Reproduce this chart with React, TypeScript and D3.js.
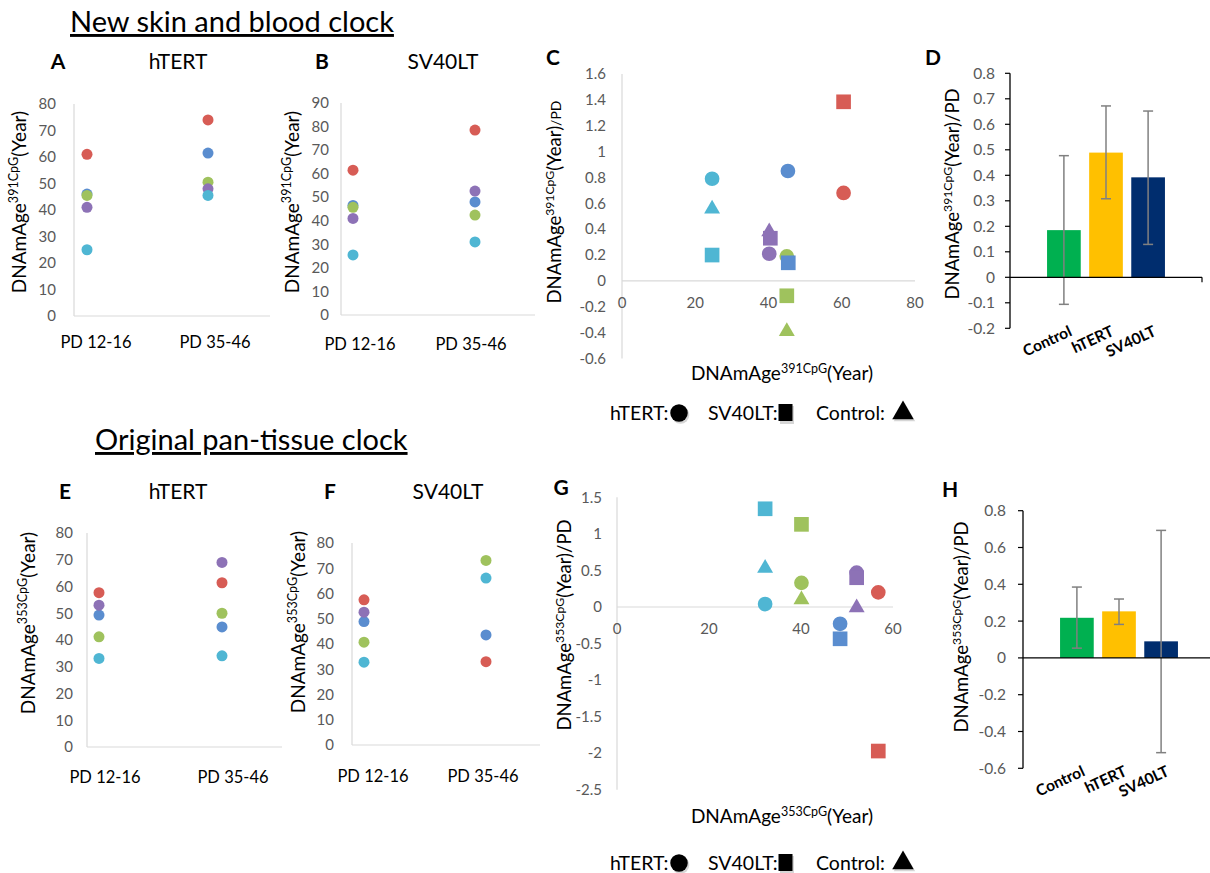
import React from 'react'
import * as d3 from 'd3'

const FONT = 'Lato, "Open Sans", sans-serif'

// red, blue, green, purple, cyan
const sampleColors = ['#d75c55', '#5a8dcf', '#9fc25d', '#8d72b6', '#4fb6d3']
const pdLabels = ['PD 12-16', 'PD 35-46']

// A: hTERT, skin and blood clock
const aEarly = [61, 46, 45.5, 41, 25]
const aLate = [74, 61.5, 50.5, 48, 45.5]
// B: SV40LT, skin and blood clock
const bEarly = [61.5, 46.5, 45.7, 41, 25.5]
const bLate = [78.5, 48, 42.4, 52.6, 31]
// E: hTERT, pan-tissue clock
const eEarly = [57.7, 49.3, 41.2, 53, 33.1]
const eLate = [61.4, 44.9, 50, 69, 34.1]
// F: SV40LT, pan-tissue clock
const fEarly = [57.5, 48.9, 40.7, 52.6, 32.8]
const fLate = [33, 43.6, 73.1, null, 66.1]

const ticks80 = [0, 10, 20, 30, 40, 50, 60, 70, 80]
const ticks90 = [0, 10, 20, 30, 40, 50, 60, 70, 80, 90]

// C: x = DNAm age at PD 12-16, y = age / PD
const cHtertX = [60.5, 45.3, 45, 40.2, 24.6]
const cHtertY = [0.68, 0.85, 0.19, 0.21, 0.79]
const cSvX = [60.5, 45.4, 45, 40.5, 24.6]
const cSvY = [1.385, 0.14, -0.115, 0.33, 0.2]
const cCtrlX = [null, null, 45, 40.2, 24.6]
const cCtrlY = [null, null, -0.39, 0.38, 0.556]
const cYTicks = [-0.6, -0.4, -0.2, 0, 0.2, 0.4, 0.6, 0.8, 1, 1.2, 1.4, 1.6]
const cXTicks = [0, 20, 40, 60, 80]

// G
const gHtertX = [56.8, 48.5, 40.1, 52.1, 32.2]
const gHtertY = [0.2, -0.23, 0.33, 0.47, 0.04]
const gSvX = [56.8, 48.5, 40.1, 52.1, 32.2]
const gSvY = [-1.97, -0.435, 1.13, 0.4, 1.343]
const gCtrlX = [null, null, 40.1, 52.1, 32.2]
const gCtrlY = [null, null, 0.1, -0.01, 0.53]
const gYTicks = [-2.5, -2, -1.5, -1, -0.5, 0, 0.5, 1, 1.5]
const gXTicks = [0, 20, 40, 60]

// D and H bars
const barGroups = ['Control', 'hTERT', 'SV40LT']
const barColors = ['#00b050', '#ffc000', '#002d6e']
const dMean = [0.185, 0.489, 0.392]
const dLow = [-0.106, 0.308, 0.129]
const dHigh = [0.477, 0.672, 0.652]
const dTicks = [-0.2, -0.1, 0, 0.1, 0.2, 0.3, 0.4, 0.5, 0.6, 0.7, 0.8]
const hMean = [0.218, 0.253, 0.09]
const hLow = [0.053, 0.182, -0.515]
const hHigh = [0.385, 0.32, 0.693]
const hTicks = [-0.6, -0.4, -0.2, 0, 0.2, 0.4, 0.6, 0.8]

const fmt = (v: number) => String(+v.toFixed(2))
const GRAY = '#595959'

function YTitle({ x, y, cpg, size = 19, suffix = '', suffixSize = 0 }: any) {
  return (
    <text transform={`translate(${x},${y}) rotate(-90)`} textAnchor="middle" dy="0.35em" fontSize={size}>
      DNAmAge
      <tspan dy={-size * 0.4} fontSize={size * 0.66}>{cpg}CpG</tspan>
      <tspan dy={size * 0.4}>(Year)</tspan>
      {suffix ? <tspan fontSize={suffixSize || size}>{suffix}</tspan> : null}
    </text>
  )
}

function DotPanel({ L, early, late, ticks, yMax, cpg, letter, title }: any) {
  const y = d3.scaleLinear().domain([0, yMax]).range([L.bottom, L.top])
  const x = d3.scalePoint().domain(pdLabels).range([L.p0, L.p1])
  const xl = d3.scalePoint().domain(pdLabels).range([L.l0, L.l1])
  const series = [early, late]
  return (
    <g>
      <text x={L.letterX} y={L.headY} fontWeight="bold" fontSize={21} textAnchor="middle">{letter}</text>
      <text x={L.titleX} y={L.headY} fontSize={21} textAnchor="middle">{title}</text>
      <line x1={L.axisX} x2={L.axisX} y1={L.top} y2={L.bottom} stroke="#d9d9d9" strokeWidth={1.2} />
      <line x1={L.axisX} x2={L.right} y1={L.bottom} y2={L.bottom} stroke="#d9d9d9" strokeWidth={1.2} />
      {ticks.map((t: number) => (
        <text key={t} x={L.tickRight} y={y(t)} dy="0.35em" textAnchor="end" fontSize={15} fill={GRAY}>{t}</text>
      ))}
      {pdLabels.map((c) => (
        <text key={c} x={xl(c)} y={L.labelY} textAnchor="middle" fontSize={16.5}>{c}</text>
      ))}
      {series.map((vals: any[], j: number) =>
        vals.map((v, i) =>
          v == null ? null : (
            <circle key={`${j}-${i}`} cx={x(pdLabels[j])} cy={y(v)} r={5.5} fill={sampleColors[i]} />
          )
        )
      )}
      <YTitle x={L.yTitleX} y={L.yTitleY} cpg={cpg} size={19} />
    </g>
  )
}

const circlePath = d3.symbol(d3.symbolCircle, 170)()
const squarePath = d3.symbol(d3.symbolSquare, 215)()
const trianglePath = d3.symbol(d3.symbolTriangle, 110)()

function Legend({ y }: any) {
  const items = [
    { label: 'hTERT:', x: 610, path: d3.symbol(d3.symbolCircle, 240)(), gx: 679 },
    { label: 'SV40LT:', x: 708, path: null, gx: 786 },
    { label: 'Control:', x: 816, path: d3.symbol(d3.symbolTriangle, 200)(), gx: 903 },
  ]
  return (
    <g fontSize={19.5}>
      {items.map((it) => (
        <g key={it.label}>
          <text x={it.x} y={y}>{it.label}</text>
          {it.path ? (
            <>
              <path d={it.path} transform={`translate(${it.gx + 1.5},${y - 5})`} fill="#bbb" opacity={0.6} />
              <path d={it.path} transform={`translate(${it.gx},${y - 7})`} fill="#000" />
            </>
          ) : (
            <>
              <rect x={it.gx - 6} y={y - 14} width={14} height={18} fill="#bbb" opacity={0.6} />
              <rect x={it.gx - 7.5} y={y - 16} width={14} height={17} fill="#000" />
            </>
          )}
        </g>
      ))}
    </g>
  )
}

function ScatterPanel({ S, letter, cpg, xTicks, yTicks, xDom, yDom, hx, hy, sx, sy, tx, ty, pdSize }: any) {
  const x = d3.scaleLinear().domain(xDom).range(S.xRange)
  const y = d3.scaleLinear().domain(yDom).range(S.yRange)
  const pts = (xs: any[], ys: any[], path: string) =>
    xs.map((xv, i) =>
      xv == null ? null : (
        <path key={path.length + '-' + i} d={path} transform={`translate(${x(xv)},${y(ys[i])})`} fill={sampleColors[i]} />
      )
    )
  return (
    <g>
      <text x={S.letterX} y={S.letterY} fontWeight="bold" fontSize={21} textAnchor="middle">{letter}</text>
      <line x1={x(0)} x2={x(0)} y1={S.yRange[0]} y2={S.yRange[1]} stroke="#d9d9d9" strokeWidth={1.2} />
      <line x1={S.xRange[0]} x2={S.xRange[1]} y1={y(0)} y2={y(0)} stroke="#d9d9d9" strokeWidth={1.2} />
      {yTicks.map((t: number) => (
        <text key={t} x={S.tickRight} y={y(t)} dy="0.35em" textAnchor="end" fontSize={15} fill={GRAY}>{fmt(t)}</text>
      ))}
      {xTicks.map((t: number) => (
        <text key={t} x={x(t)} y={S.xLabelY} textAnchor="middle" fontSize={15} fill={GRAY}>{t}</text>
      ))}
      {pts(hx, hy, circlePath)}
      {pts(tx, ty, trianglePath)}
      {pts(sx, sy, squarePath)}
      <YTitle x={S.yTitleX} y={S.yTitleY} cpg={cpg} size={18.5} suffix="/PD" suffixSize={pdSize} />
      <text x={S.xTitleX} y={S.xTitleY} textAnchor="middle" fontSize={19}>
        DNAmAge
        <tspan dy={-7.5} fontSize={12.5}>{cpg}CpG</tspan>
        <tspan dy={7.5}>(Year)</tspan>
      </text>
      <Legend y={S.legendY} />
    </g>
  )
}

function BarPanel({ B, letter, cpg, mean, low, high, ticks, yDom }: any) {
  const y = d3.scaleLinear().domain(yDom).range(B.yRange)
  const x = d3.scaleBand().domain(barGroups).range(B.xRange).paddingInner(0.2).paddingOuter(0.88)
  const bw = x.bandwidth()
  return (
    <g>
      <text x={B.letterX} y={B.letterY} fontWeight="bold" fontSize={21} textAnchor="middle">{letter}</text>
      {barGroups.map((g, i) => (
        <rect key={g} x={x(g)} width={bw} y={Math.min(y(mean[i]), y(0))} height={Math.abs(y(0) - y(mean[i]))} fill={barColors[i]} />
      ))}
      {barGroups.map((g, i) => {
        const cx = x(g)! + bw / 2
        return (
          <g key={g} stroke="#808080" strokeWidth={1.5}>
            <line x1={cx} x2={cx} y1={y(low[i])} y2={y(high[i])} />
            <line x1={cx - 5} x2={cx + 5} y1={y(low[i])} y2={y(low[i])} />
            <line x1={cx - 5} x2={cx + 5} y1={y(high[i])} y2={y(high[i])} />
          </g>
        )
      })}
      <line x1={B.axisX} x2={B.axisX} y1={B.yRange[0]} y2={B.yRange[1]} stroke="#000" strokeWidth={1.3} />
      {ticks.map((t: number) => (
        <g key={t}>
          <line x1={B.axisX - 5} x2={B.axisX} y1={y(t)} y2={y(t)} stroke="#000" strokeWidth={1.2} />
          <text x={B.tickRight} y={y(t)} dy="0.35em" textAnchor="end" fontSize={15.5} fill={GRAY}>{fmt(t)}</text>
        </g>
      ))}
      <line x1={B.axisX} x2={B.xRange[1]} y1={y(0)} y2={y(0)} stroke="#000" strokeWidth={1.3} />
      <line x1={B.xRange[1]} x2={B.xRange[1]} y1={y(0)} y2={y(0) + 5} stroke="#000" strokeWidth={1.2} />
      {barGroups.map((g) => (
        <text
          key={g}
          transform={`translate(${x(g)! + bw / 2 + 9},${B.labelY}) rotate(-25)`}
          textAnchor="end"
          fontWeight="bold"
          fontSize={15.5}
        >
          {g}
        </text>
      ))}
      <YTitle x={B.yTitleX} y={B.yTitleY} cpg={cpg} size={18.5} suffix="/PD" />
    </g>
  )
}

const layoutA = { letterX: 58, titleX: 178, headY: 69, axisX: 74, right: 270, top: 104, bottom: 316, p0: 87, p1: 208, l0: 96, l1: 215, labelY: 348, tickRight: 56, yTitleX: 19, yTitleY: 202 }
const layoutB = { letterX: 322, titleX: 443, headY: 69, axisX: 341, right: 535, top: 103, bottom: 315, p0: 353, p1: 475, l0: 360, l1: 471, labelY: 350, tickRight: 329, yTitleX: 292, yTitleY: 202 }
const layoutE = { letterX: 65, titleX: 178, headY: 499, axisX: 87, right: 282, top: 533, bottom: 747, p0: 99, p1: 222, l0: 105, l1: 233, labelY: 783, tickRight: 73, yTitleX: 28, yTitleY: 623 }
const layoutF = { letterX: 330, titleX: 448, headY: 499, axisX: 352, right: 540, top: 543, bottom: 745, p0: 364, p1: 486, l0: 373, l1: 483, labelY: 782, tickRight: 334, yTitleX: 298, yTitleY: 622 }

const layoutC = { letterX: 553, letterY: 65, xRange: [622, 915], yRange: [358.5, 74], tickRight: 606, xLabelY: 308, yTitleX: 555, yTitleY: 202, xTitleX: 782, xTitleY: 380, legendY: 420 }
const layoutG = { letterX: 561, letterY: 495, xRange: [617, 893], yRange: [789.8, 497.3], tickRight: 602, xLabelY: 634, yTitleX: 565, yTitleY: 625, xTitleX: 782, xTitleY: 823, legendY: 870 }

const layoutD = { letterX: 933, letterY: 65, axisX: 1010, xRange: [1010, 1202], yRange: [328.3, 73.3], tickRight: 995, yTitleX: 953, yTitleY: 194, labelY: 335 }
const layoutH = { letterX: 950, letterY: 497, axisX: 1023, xRange: [1023, 1215], yRange: [768.3, 510.7], tickRight: 1006, yTitleX: 962, yTitleY: 627, labelY: 775 }

export default function App() {
  return (
    <div style={{ position: 'absolute', left: 0, top: 0 }}>
      <svg width={1210} height={873} style={{ display: 'block', background: '#fff' }} fontFamily={FONT}>
        <text x={70} y={32} fontSize={29} textDecoration="underline">New skin and blood clock</text>
        <text x={95} y={450} fontSize={29} textDecoration="underline">Original pan-tissue clock</text>

        <DotPanel L={layoutA} early={aEarly} late={aLate} ticks={ticks80} yMax={80} cpg="391" letter="A" title="hTERT" />
        <DotPanel L={layoutB} early={bEarly} late={bLate} ticks={ticks90} yMax={90} cpg="391" letter="B" title="SV40LT" />
        <ScatterPanel S={layoutC} letter="C" cpg="391" xTicks={cXTicks} yTicks={cYTicks} xDom={[0, 80]} yDom={[-0.6, 1.6]}
          hx={cHtertX} hy={cHtertY} sx={cSvX} sy={cSvY} tx={cCtrlX} ty={cCtrlY} pdSize={14} />
        <BarPanel B={layoutD} letter="D" cpg="391" mean={dMean} low={dLow} high={dHigh} ticks={dTicks} yDom={[-0.2, 0.8]} />

        <DotPanel L={layoutE} early={eEarly} late={eLate} ticks={ticks80} yMax={80} cpg="353" letter="E" title="hTERT" />
        <DotPanel L={layoutF} early={fEarly} late={fLate} ticks={ticks80} yMax={80} cpg="353" letter="F" title="SV40LT" />
        <ScatterPanel S={layoutG} letter="G" cpg="353" xTicks={gXTicks} yTicks={gYTicks} xDom={[0, 60]} yDom={[-2.5, 1.5]}
          hx={gHtertX} hy={gHtertY} sx={gSvX} sy={gSvY} tx={gCtrlX} ty={gCtrlY} pdSize={18.5} />
        <BarPanel B={layoutH} letter="H" cpg="353" mean={hMean} low={hLow} high={hHigh} ticks={hTicks} yDom={[-0.6, 0.8]} />
      </svg>
    </div>
  )
}
